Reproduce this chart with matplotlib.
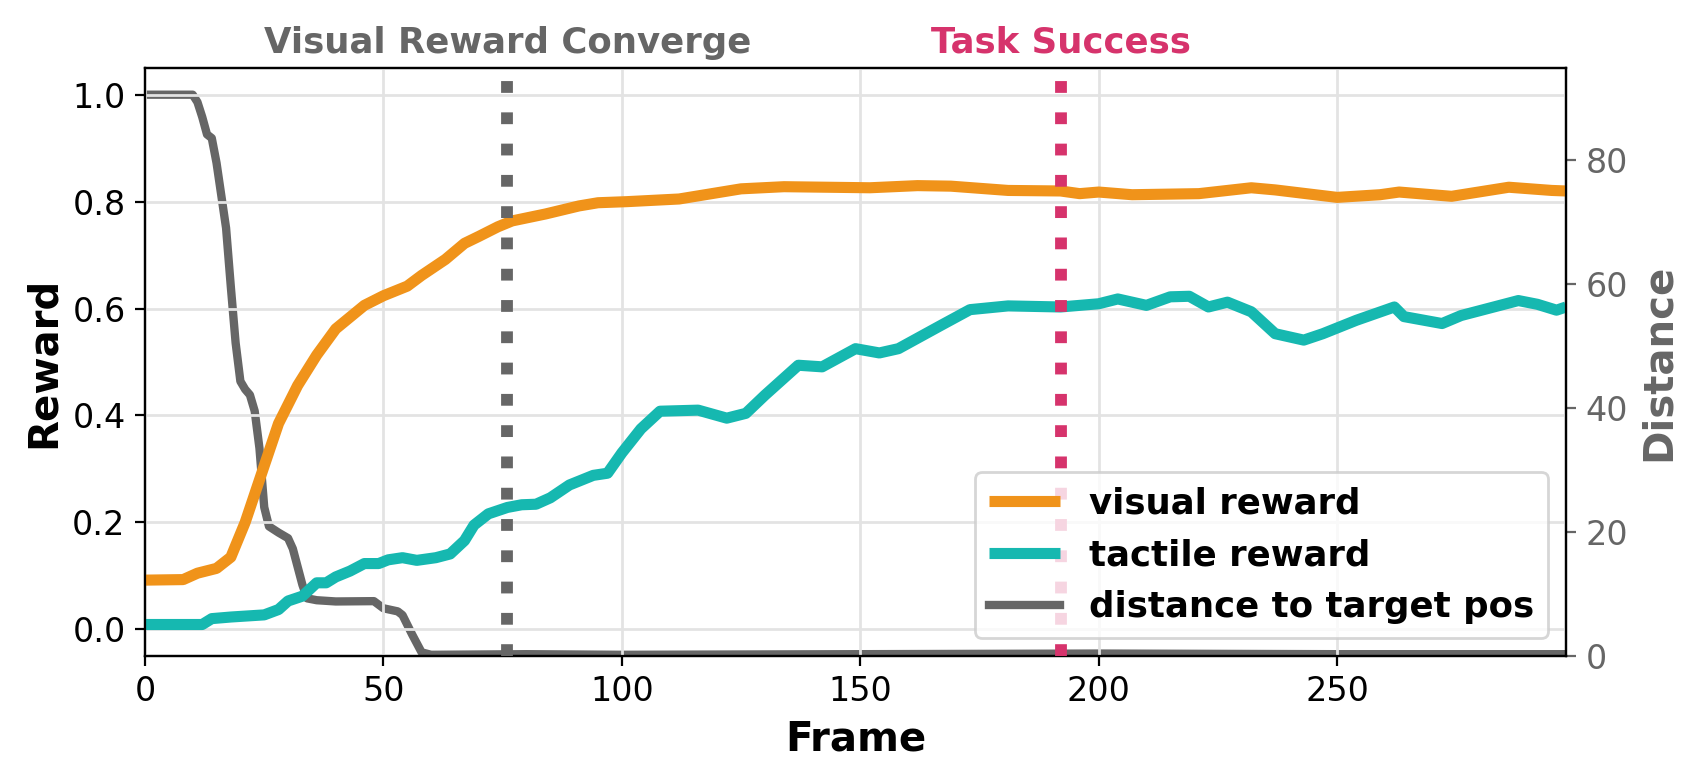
import matplotlib
matplotlib.use("Agg")
import matplotlib.pyplot as plt
import matplotlib.transforms as mtransforms

# ---------------- data ----------------
visual_frames = [0, 8, 11, 15, 18, 21, 25, 28, 32, 36, 40, 46, 50, 55, 58, 63, 67, 70,
                 74, 77, 84, 91, 95, 101, 112, 125, 134, 152, 162, 169, 181, 192, 196,
                 200, 207, 221, 232, 237, 250, 259, 263, 274, 286, 295, 298]
visual_reward = [0.092, 0.093, 0.105, 0.114, 0.135, 0.200, 0.306, 0.385, 0.456, 0.513,
                 0.562, 0.606, 0.624, 0.642, 0.662, 0.692, 0.722, 0.735, 0.753, 0.764,
                 0.777, 0.792, 0.798, 0.800, 0.805, 0.824, 0.828, 0.826, 0.830, 0.829,
                 0.821, 0.820, 0.815, 0.818, 0.813, 0.815, 0.826, 0.822, 0.808, 0.813,
                 0.818, 0.810, 0.827, 0.821, 0.820]

tactile_frames = [0, 12, 14, 18, 25, 28, 30, 33, 36, 38, 40, 43, 46, 49, 51, 54, 57, 61,
                  64, 67, 69, 72, 76, 79, 82, 85, 89, 94, 97, 100, 104, 108, 116, 122,
                  126, 130, 137, 142, 149, 154, 158, 167, 173, 181, 192, 200, 204, 210,
                  215, 219, 223, 227, 232, 237, 243, 247, 254, 262, 264, 272, 276, 288,
                  292, 296, 298]
tactile_reward = [0.009, 0.009, 0.020, 0.023, 0.027, 0.037, 0.053, 0.062, 0.087, 0.087,
                  0.098, 0.109, 0.123, 0.123, 0.130, 0.134, 0.129, 0.134, 0.141, 0.166,
                  0.195, 0.216, 0.228, 0.233, 0.234, 0.246, 0.270, 0.288, 0.292, 0.330,
                  0.375, 0.408, 0.410, 0.395, 0.404, 0.438, 0.494, 0.491, 0.525, 0.517,
                  0.525, 0.569, 0.598, 0.605, 0.603, 0.609, 0.618, 0.606, 0.622, 0.623,
                  0.603, 0.612, 0.594, 0.553, 0.541, 0.553, 0.578, 0.603, 0.585, 0.572,
                  0.587, 0.615, 0.608, 0.597, 0.603]

distance_frames = [0, 10, 11, 12, 13, 14, 15, 17, 18, 19, 20, 21, 22, 23, 24, 25, 26,
                   28, 30, 31, 33, 34, 36, 40, 48, 50, 53, 54, 56, 58, 60, 80, 100, 150,
                   200, 250, 298]
distance = [90.5, 90.5, 89.3, 86.9, 84.1, 83.5, 79.5, 69.0, 59.5, 50.5, 44.3, 43.0,
            42.1, 39.5, 33.5, 24.0, 20.9, 19.9, 19.0, 17.3, 11.5, 9.3, 9.0, 8.8, 8.85,
            7.7, 7.2, 6.6, 3.5, 0.6, 0.2, 0.3, 0.2, 0.3, 0.4, 0.3, 0.3]

event_frames = [76, 192]
event_labels = ["Visual Reward Converge", "Task Success"]

series_labels = ["visual reward", "tactile reward", "distance to target pos"]

# ---------------- style ----------------
ORANGE = "#F0931A"
TEAL = "#16B8B0"
GRAY = "#666666"
PINK = "#D6336C"
event_colors = [GRAY, PINK]

plt.rcParams["font.family"] = ["DejaVu Sans"]

fig = plt.figure(figsize=(8.5, 3.905), dpi=200)
ax = fig.add_axes([0.0853, 0.160, 0.9212 - 0.0853, 0.9129 - 0.160])
ax2 = ax.twinx()

# main axis on top of the twin so reward lines cover the distance line
ax.set_zorder(ax2.get_zorder() + 1)
ax.patch.set_visible(False)

l3, = ax2.plot(distance_frames, distance, color=GRAY, lw=3,
               label=series_labels[2])
l1, = ax.plot(visual_frames, visual_reward, color=ORANGE, lw=4,
              label=series_labels[0], solid_capstyle="butt")
l2, = ax.plot(tactile_frames, tactile_reward, color=TEAL, lw=4,
              label=series_labels[1], solid_capstyle="butt")

trans = mtransforms.blended_transform_factory(ax.transData, ax.transAxes)
for f, lab, c in zip(event_frames, event_labels, event_colors):
    ax.axvline(f, color=c, ls=":", lw=4.25, zorder=3)
    ax.text(f, 1.026, lab, transform=trans, ha="center", va="baseline",
            fontsize=12.8, fontweight="bold", color=c)

ax.set_xlim(0, 298)
ax.set_ylim(-0.05, 1.05)
ax2.set_ylim(0, 94.8)

ax.grid(True, color="#e3e3e3", lw=1.0)
ax.tick_params(labelsize=12)
ax2.tick_params(labelsize=12, colors=GRAY)
ax2.spines["right"].set_color("black")

ax.set_xlabel("Frame", fontsize=14.5, fontweight="bold")
ax.set_ylabel("Reward", fontsize=14.5, fontweight="bold", labelpad=3)
ax2.set_ylabel("Distance", fontsize=14.5, fontweight="bold", color=GRAY)

ax.legend(handles=[l1, l2, l3], loc="lower right",
          prop={"weight": "bold", "size": 12.8})

fig.savefig("out.png", dpi=200)
